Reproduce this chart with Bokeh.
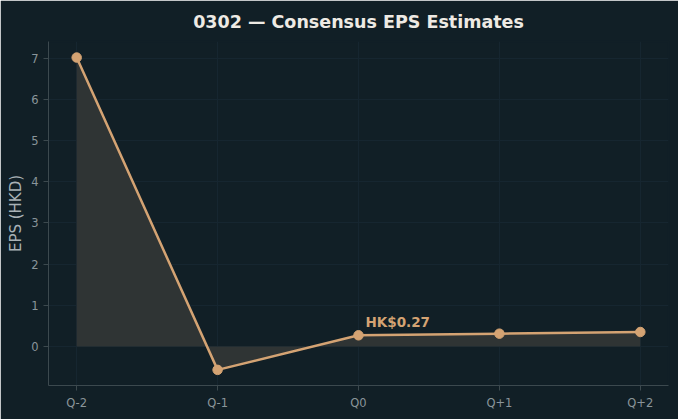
from bokeh.plotting import figure
from bokeh.models import Range1d, FixedTicker, Label
from bokeh.embed import file_html
from bokeh.resources import INLINE

quarters = ["Q-2", "Q-1", "Q0", "Q+1", "Q+2"]
eps = [7.02, -0.57, 0.27, 0.31, 0.35]
title_text = "0302 \u2014 Consensus EPS Estimates"
ylabel = "EPS (HKD)"
annot_text = "HK$0.27"
annot_idx = 2

BG = "#111f26"
LINE = "#d4a373"
FILL = "#2f3434"
SPINE = "#3c494e"
GRID = "#162630"
TICKC = "#8a959a"

xs = list(range(len(quarters)))

p = figure(width=678, height=419, output_backend="svg", toolbar_location=None,
           x_range=Range1d(-0.2, 4.2), y_range=Range1d(-0.95, 7.41),
           min_border_left=48, min_border_right=10, min_border_top=40, min_border_bottom=34)

p.background_fill_color = BG
p.border_fill_color = BG
p.outline_line_color = BG
p.outline_line_width = 2

p.title.text = title_text
p.title.align = "center"
p.title.text_font = "DejaVu Sans"
p.title.text_font_size = "17.5px"
p.title.text_font_style = "bold"
p.title.text_color = "#eeeae4"
p.title.standoff = 19

p.varea(x=xs, y1=[0] * len(xs), y2=eps, fill_color=FILL, fill_alpha=1.0)
p.line(xs, eps, line_color=LINE, line_width=2.5)
p.scatter(xs, eps, size=9.5, fill_color=LINE, line_color=LINE)

lab = Label(x=xs[annot_idx], y=eps[annot_idx], text=annot_text, x_offset=7, y_offset=5,
            text_font="DejaVu Sans", text_font_size="13.5px", text_font_style="bold",
            text_color=LINE, text_baseline="bottom", text_align="left")
p.add_layout(lab)

p.xaxis.ticker = FixedTicker(ticks=xs)
p.xaxis.major_label_overrides = {i: q for i, q in enumerate(quarters)}
p.yaxis.ticker = FixedTicker(ticks=list(range(0, 8)))
p.yaxis.axis_label = ylabel

for ax in (p.xaxis[0], p.yaxis[0]):
    ax.axis_line_color = SPINE
    ax.major_tick_line_color = SPINE
    ax.major_tick_out = 5
    ax.major_tick_in = 0
    ax.minor_tick_line_color = None
    ax.major_label_text_color = TICKC
    ax.major_label_text_font = "DejaVu Sans"
    ax.major_label_text_font_size = "11.5px"
    ax.major_label_standoff = 5

p.yaxis.axis_label_text_font = "DejaVu Sans"
p.yaxis.axis_label_text_font_size = "15px"
p.yaxis.axis_label_text_font_style = "normal"
p.yaxis.axis_label_text_color = "#a9b2b6"
p.yaxis.axis_label_standoff = 3

p.xgrid.grid_line_color = GRID
p.ygrid.grid_line_color = GRID
p.xgrid.grid_line_width = 1
p.ygrid.grid_line_width = 1

open("out.html", "w").write(file_html(p, INLINE))
